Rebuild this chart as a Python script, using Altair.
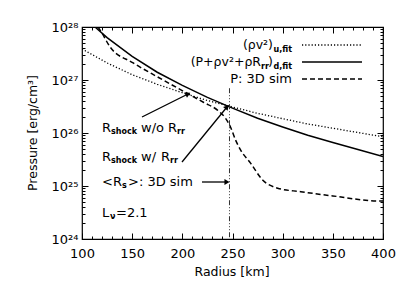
import altair as alt
import pandas as pd

# ---------------- data ----------------
radius_solid = [100, 113, 125, 150, 175, 200, 225, 250, 275, 300, 325, 350, 375, 400]
p_solid = [1.74e28, 1.0e28, 6.3e27, 2.8e27, 1.4e27, 7.9e26, 4.7e26, 2.95e26,
           1.9e26, 1.3e26, 9.1e25, 6.6e25, 4.9e25, 3.6e25]

radius_dotted = [100, 125, 150, 175, 200, 225, 250, 275, 300, 325, 350, 375, 400]
p_dotted = [3.85e27, 2.1e27, 1.26e27, 8.3e26, 5.75e26, 4.1e26, 3.1e26, 2.35e26,
            1.86e26, 1.48e26, 1.23e26, 1.02e26, 8.5e25]

radius_dashed = [116, 120, 128, 151, 175, 195, 208, 221, 235, 243, 248, 253, 258, 268,
                 280, 295, 318, 350, 397, 400]
p_dashed = [1.0e28, 7.6e27, 4.2e27, 2.1e27, 1.15e27, 7.1e26, 5.2e26, 3.8e26, 2.7e26, 1.9e26,
            1.3e26, 7.4e25, 4.8e25, 2.7e25, 1.3e25, 9.1e24, 7.8e24, 6.5e24, 5.2e24, 5.2e24]

mean_shock_radius = 247          # <R_s>: 3D sim
mean_shock_line_top = 7.0e26

x_major = [100, 150, 200, 250, 300, 350, 400]
y_major = [1e24, 1e25, 1e26, 1e27, 1e28]
y_major_labels = ["10²⁴", "10²⁵", "10²⁶", "10²⁷", "10²⁸"]
x_minor = [v for v in range(100, 401, 10) if v % 50]
y_minor = [m * 10.0 ** e for e in range(24, 28) for m in range(2, 10)]

x_title = "Radius [km]"
y_title = "Pressure [erg/cm³]"

FONT = "DejaVu Sans"
W, H = 301, 212
OX, OY = 82, 27   # plot origin in page pixels

xs = alt.Scale(domain=[100, 400], nice=False, zero=False, padding=0)
ys = alt.Scale(type="log", domain=[1e24, 1e28], nice=False, padding=0)

label_expr = "[" + ",".join("'%s'" % s for s in y_major_labels) + "][round(log(datum.value)/LN10)-24]"

df_solid = pd.DataFrame({"r": radius_solid, "p": p_solid})
df_dotted = pd.DataFrame({"r": radius_dotted, "p": p_dotted})
df_dashed = pd.DataFrame({"r": radius_dashed, "p": p_dashed})
one = pd.DataFrame({"a": [0]})

ax_common = dict(domain=False, grid=False, tickColor="black", tickWidth=1, title=None,
                 labelFont=FONT, labelFontSize=13, labelColor="black",
                 labelFlush=False, labelOverlap=False)

x_bottom = alt.Axis(orient="bottom", values=x_major, tickSize=6, offset=-6, labelPadding=8, **ax_common)
y_left = alt.Axis(orient="left", values=y_major, tickSize=6, offset=-6, labelPadding=4,
                  labelExpr=label_expr, **ax_common)

solid = alt.Chart(df_solid).mark_line(color="black", strokeWidth=1.5, clip=True).encode(
    x=alt.X("r:Q", scale=xs, axis=x_bottom),
    y=alt.Y("p:Q", scale=ys, axis=y_left),
)
dotted = alt.Chart(df_dotted).mark_line(color="black", strokeWidth=1.3, strokeDash=[1.2, 2], clip=True).encode(
    x=alt.X("r:Q", scale=xs, axis=None),
    y=alt.Y("p:Q", scale=ys, axis=None),
)
dashed = alt.Chart(df_dashed).mark_line(color="black", strokeWidth=1.5, strokeDash=[5, 3],
                                         interpolate="monotone", clip=True).encode(
    x=alt.X("r:Q", scale=xs, axis=None),
    y=alt.Y("p:Q", scale=ys, axis=None),
)

# extra axes: minor ticks and top/right ticks
def tick_layer(xaxis, yaxis):
    return alt.Chart(df_solid).mark_line(opacity=0).encode(
        x=alt.X("r:Q", scale=xs, axis=xaxis),
        y=alt.Y("p:Q", scale=ys, axis=yaxis),
    )

noLab = dict(labels=False, title=None, domain=False, grid=False, tickColor="black", tickWidth=1)
axes_layers = [
    tick_layer(alt.Axis(orient="bottom", values=x_minor, tickSize=3, offset=-3, **noLab),
               alt.Axis(orient="left", values=y_minor, tickSize=3, offset=-3, **noLab)),
    tick_layer(alt.Axis(orient="top", values=x_major, tickSize=6, offset=-6, **noLab),
               alt.Axis(orient="right", values=y_major, tickSize=6, offset=-6, **noLab)),
    tick_layer(alt.Axis(orient="top", values=x_minor, tickSize=3, offset=-3, **noLab),
               alt.Axis(orient="right", values=y_minor, tickSize=3, offset=-3, **noLab)),
]

# vertical mean shock radius line
vline = alt.Chart(pd.DataFrame({"r": [mean_shock_radius], "p": [mean_shock_line_top], "p2": [1e24]})).mark_rule(
    color="#333", strokeWidth=1, strokeDash=[5, 2, 1, 2, 1, 2, 1, 2]).encode(
    x=alt.X("r:Q", scale=xs, axis=None),
    y=alt.Y("p:Q", scale=ys, axis=None),
    y2="p2:Q",
)

# annotation text pieces: (text, x, y, size, align, bold)
pieces = [
    ("(ρv²)", 273, 45, 12.5, "right", False),
    ("u,fit", 292, 50, 8, "right", True),
    ("(P+ρv²+ρR", 261, 62, 12.5, "right", False),
    ("rr", 269, 67, 8, "right", True),
    (")", 273, 62, 12.5, "right", False),
    ("d,fit", 292, 67, 8, "right", True),
    ("P: 3D sim", 292, 79, 13, "right", False),
    ("R", 102, 128, 13, "left", False),
    ("shock", 111, 132, 8, "left", True),
    ("w/o", 141, 128, 13, "left", False),
    ("R", 168, 128, 13, "left", False),
    ("rr", 177, 132, 8, "left", True),
    ("R", 102, 157, 13, "left", False),
    ("shock", 111, 161, 8, "left", True),
    ("w/", 141, 157, 13, "left", False),
    ("R", 161, 157, 13, "left", False),
    ("rr", 170, 161, 8, "left", True),
    ("<R", 102, 182, 13, "left", False),
    ("s", 122, 186, 8, "left", True),
    (">: 3D sim", 128, 182, 13, "left", False),
    ("L", 102, 213, 13, "left", False),
    ("ν", 110, 217, 8, "left", True),
    ("=2.1", 116, 213, 13, "left", False),
]
text_layers = []
for t, x, y, s, a, b in pieces:
    text_layers.append(alt.Chart(one).mark_text(
        text=t, font=FONT, fontSize=s, align=a, baseline="middle", color="black",
        fontWeight="bold" if b else "normal").encode(
        x=alt.value(x - OX), y=alt.value(y - OY)))

# axis titles
text_layers.append(alt.Chart(one).mark_text(
    text=x_title, font=FONT, fontSize=12.5, align="center", baseline="middle", color="black").encode(
    x=alt.value(232 - OX), y=alt.value(272 - OY)))
text_layers.append(alt.Chart(one).mark_text(
    text=y_title, font=FONT, fontSize=12.5, align="center", baseline="middle", color="black", angle=270).encode(
    x=alt.value(33 - OX), y=alt.value(133 - OY)))

# legend line samples: (x1, x2, y, dash, width)
legend_lines = [(302, 362, 45, [1.2, 2], 1.3), (302, 362, 62, None, 1.5), (302, 362, 79, [5, 3], 1.5)]
leg_layers = []
for x1, x2, y, d, w in legend_lines:
    kw = dict(color="black", strokeWidth=w)
    if d:
        kw["strokeDash"] = d
    leg_layers.append(alt.Chart(one).mark_rule(**kw).encode(
        x=alt.value(x1 - OX), x2=alt.value(x2 - OX), y=alt.value(y - OY)))

# arrows: (tail x, tail y, head x, head y, angle)
arrows = [(142, 117, 188, 94, 333.4), (182, 162, 227, 107, 309.3), (202, 182, 227, 182, 0)]
arrow_layers = []
for tx, ty, hx, hy, ang in arrows:
    arrow_layers.append(alt.Chart(one).mark_rule(color="black", strokeWidth=1.3).encode(
        x=alt.value(tx - OX), y=alt.value(ty - OY), x2=alt.value(hx - OX), y2=alt.value(hy - OY)))
    arrow_layers.append(alt.Chart(one).mark_point(
        shape="triangle-right", filled=True, color="black", size=35, opacity=1, angle=ang).encode(
        x=alt.value(hx - OX), y=alt.value(hy - OY)))

chart = alt.layer(dotted, dashed, solid, vline, *axes_layers, *leg_layers, *arrow_layers, *text_layers).resolve_axis(
    x="independent", y="independent"
).properties(
    width=W, height=H,
    autosize=alt.AutoSizeParams(type="none"),
    padding={"left": OX - 8, "top": OY - 8, "right": 16, "bottom": 44},
    background="white",
).configure_view(stroke="black", strokeWidth=1.2)

chart.save("out.html", embed_options={"renderer": "svg", "actions": False})
